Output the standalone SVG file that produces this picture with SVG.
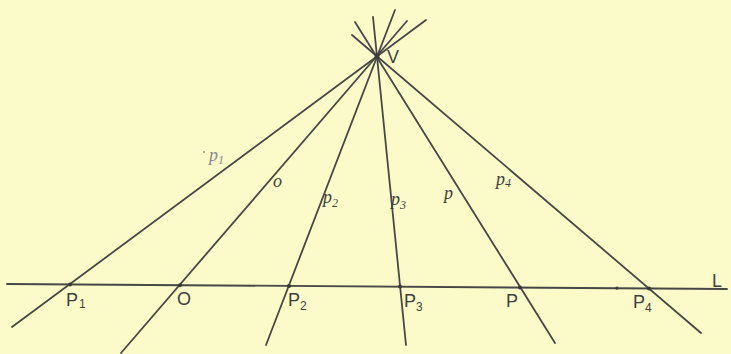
<svg xmlns="http://www.w3.org/2000/svg" width="731" height="354" viewBox="0 0 731 354">
<style>
.ln{stroke:#474747;stroke-width:1.8;fill:none;stroke-linecap:round}
.dot{fill:#3a3a3a}
.up{font-family:"Liberation Sans",Arial,sans-serif;font-size:18px;fill:#3f3f3f}
.it{font-family:"Liberation Serif","Times New Roman",serif;font-style:italic;font-size:18px;fill:#3f3f3f}
.sub{font-size:12px}
</style>
<rect width="731" height="354" fill="#fbfbc9"/>
<g id="connectors">
<line class="ln" x1="7" y1="284" x2="727" y2="289"/>
<line class="ln" x1="12" y1="327" x2="426" y2="20"/>
<line class="ln" x1="121" y1="353" x2="407" y2="21"/>
<line class="ln" x1="266" y1="345" x2="395" y2="10"/>
<line class="ln" x1="406" y1="345" x2="373" y2="17"/>
<line class="ln" x1="555" y1="343" x2="355" y2="22"/>
<line class="ln" x1="701" y1="333" x2="352" y2="35"/>
</g>
<g id="V"><circle class="dot" cx="377" cy="56" r="2.5"/><text class="up" x="387" y="63" font-size="15">V</text></g>
<g id="P1"><circle class="dot" cx="70" cy="284.4" r="2"/><text class="up" x="66" y="306">P<tspan class="sub" dx="1" dy="2">1</tspan></text></g>
<g id="O"><circle class="dot" cx="180" cy="285.2" r="2"/><text class="up" x="177" y="305">O</text></g>
<g id="P2"><circle class="dot" cx="289" cy="285.9" r="2"/><text class="up" x="288" y="306">P<tspan class="sub" dy="4">2</tspan></text></g>
<g id="P3"><circle class="dot" cx="400" cy="286.6" r="2"/><text class="up" x="404" y="307">P<tspan class="sub" dy="4">3</tspan></text></g>
<g id="P"><circle class="dot" cx="520" cy="287.4" r="2"/><text class="up" x="506" y="307">P</text></g>
<g id="extra"><circle class="dot" cx="617" cy="288.1" r="1.6"/></g>
<g id="P4"><circle class="dot" cx="649" cy="288.4" r="2"/><text class="up" x="633" y="308">P<tspan class="sub" dy="4">4</tspan></text></g>
<g id="L"><text class="up" x="712" y="287" font-size="22">L</text></g>
<g id="p1lab"><circle cx="204" cy="152" r="0.9" fill="#8a8a8a"/><text class="it" x="209" y="161" style="fill:#8a8a8a">p<tspan class="sub" dy="3">1</tspan></text></g>
<g id="olab"><text class="it" x="273" y="187" font-size="16">o</text></g>
<g id="p2lab"><text class="it" x="323" y="203">p<tspan class="sub" dy="4">2</tspan></text></g>
<g id="p3lab"><text class="it" x="391" y="205">p<tspan class="sub" dy="4">3</tspan></text></g>
<g id="plab"><text class="it" x="444" y="199">p</text></g>
<g id="p4lab"><text class="it" x="496" y="185">p<tspan class="sub" dy="2">4</tspan></text></g>
</svg>
